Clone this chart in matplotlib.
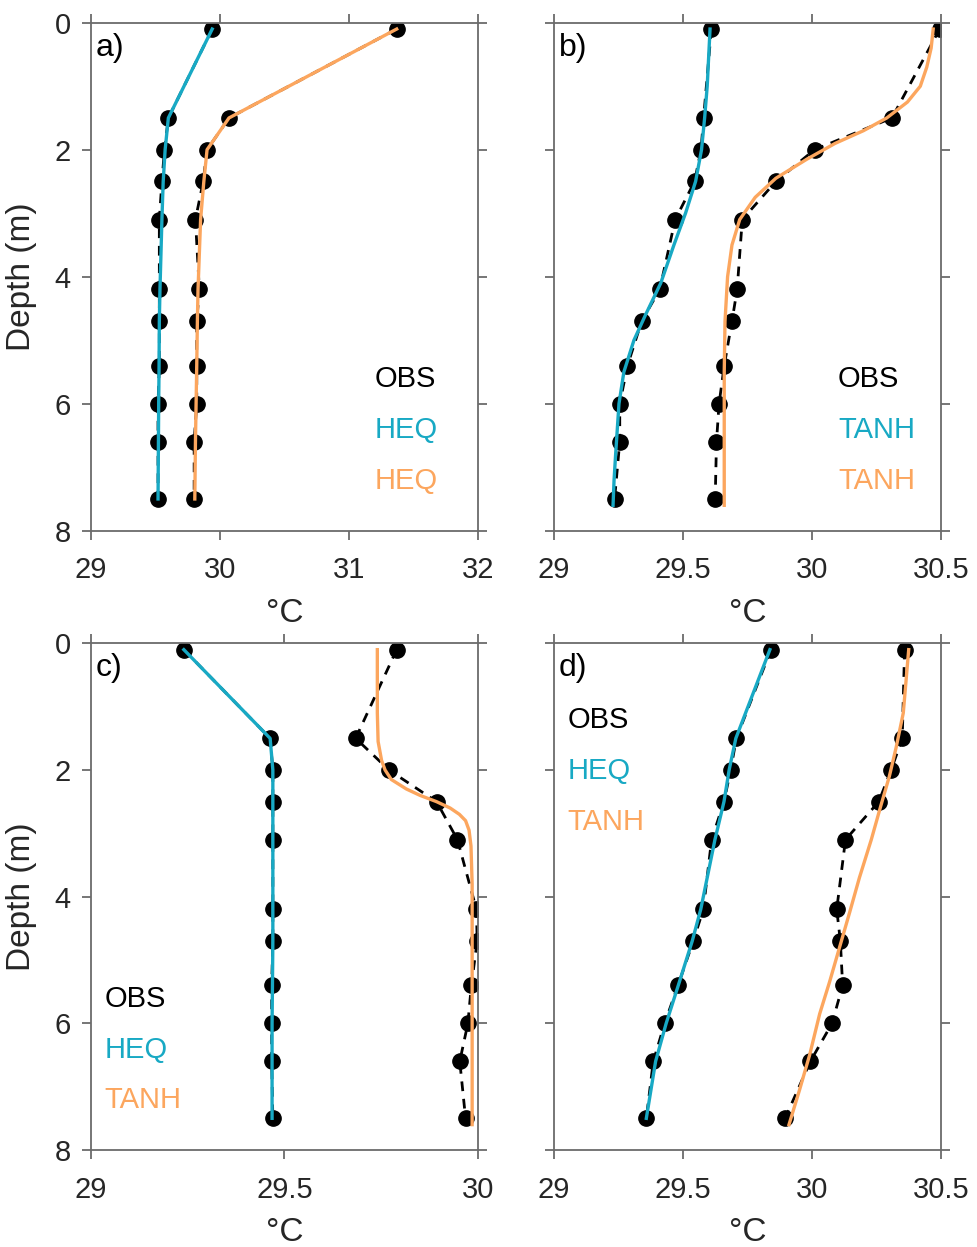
import matplotlib
matplotlib.use('Agg')
import matplotlib.pyplot as plt

plt.rcParams['font.family'] = ['Liberation Sans', 'DejaVu Sans']

# observation depths (m), shared by every profile
depth_obs = [0.1, 1.5, 2.0, 2.5, 3.1, 4.2, 4.7, 5.4, 6.0, 6.6, 7.5]

# a) HEQ fits to two profiles
obs_a1 = [29.94, 29.60, 29.57, 29.55, 29.53, 29.53, 29.53, 29.53, 29.52, 29.52, 29.52]
obs_a2 = [31.37, 30.07, 29.90, 29.87, 29.81, 29.84, 29.82, 29.82, 29.82, 29.80, 29.80]
heq_a1 = [29.94, 29.60, 29.575, 29.56, 29.55, 29.535, 29.53, 29.528, 29.525, 29.523, 29.52]
heq_a2 = [31.37, 30.07, 29.90, 29.875, 29.85, 29.83, 29.825, 29.82, 29.815, 29.81, 29.805]

# b) TANH fits
obs_b1 = [29.61, 29.58, 29.57, 29.545, 29.47, 29.41, 29.34, 29.285, 29.255, 29.255, 29.235]
obs_b2 = [30.495, 30.31, 30.01, 29.86, 29.73, 29.71, 29.69, 29.66, 29.64, 29.63, 29.625]
depth_b1 = [0.1, 1.0, 1.5, 2.0, 2.5, 3.0, 3.5, 4.1, 4.6, 5.0, 5.5, 6.0, 6.8, 7.2, 7.6]
tanh_b1 = [29.605, 29.594, 29.584, 29.572, 29.549, 29.51, 29.465, 29.414, 29.355,
           29.31, 29.271, 29.252, 29.239, 29.233, 29.229]
depth_b2 = [0.1, 0.4, 0.7, 1.0, 1.25, 1.5, 1.7, 1.9, 2.15, 2.45, 2.75, 3.1, 3.5,
            4.0, 4.7, 5.5, 7.6]
tanh_b2 = [30.47, 30.462, 30.445, 30.42, 30.37, 30.29, 30.20, 30.09, 29.98, 29.86,
           29.78, 29.72, 29.69, 29.673, 29.663, 29.66, 29.66]

# c) HEQ + TANH
obs_c1 = [29.24, 29.463, 29.47, 29.47, 29.47, 29.47, 29.47, 29.467, 29.467, 29.467, 29.47]
obs_c2 = [29.79, 29.684, 29.77, 29.893, 29.947, 29.996, 29.998, 29.983, 29.974, 29.953, 29.968]
heq_c1 = [29.24, 29.463, 29.47, 29.47, 29.47, 29.47, 29.47, 29.469, 29.468, 29.468, 29.468]
depth_c2 = [0.1, 1.1, 1.55, 1.85, 2.0, 2.15, 2.3, 2.4, 2.5, 2.6, 2.7, 2.8, 2.95,
            3.2, 3.8, 7.6]
tanh_c2 = [29.74, 29.74, 29.742, 29.751, 29.76, 29.776, 29.815, 29.85, 29.893,
           29.928, 29.952, 29.968, 29.977, 29.982, 29.985, 29.985]

# d) HEQ + TANH
obs_d1 = [29.841, 29.707, 29.685, 29.659, 29.611, 29.579, 29.54, 29.481, 29.429, 29.385, 29.358]
obs_d2 = [30.359, 30.35, 30.307, 30.259, 30.13, 30.096, 30.11, 30.119, 30.078, 29.994, 29.896]
heq_d1 = [29.837, 29.705, 29.679, 29.659, 29.624, 29.569, 29.536, 29.482, 29.435, 29.394, 29.358]
depth_d2 = [0.1, 1.1, 1.65, 2.1, 2.55, 3.1, 3.7, 4.25, 4.8, 5.35, 5.85, 6.5, 7.05, 7.6]
tanh_d2 = [30.375, 30.354, 30.326, 30.30, 30.268, 30.23, 30.184, 30.146, 30.107,
           30.068, 30.03, 29.991, 29.952, 29.911]

xticks_a = [29, 30, 31, 32]
xticks_bd = [29, 29.5, 30, 30.5]
xticks_c = [29, 29.5, 30]
yticks = [0, 2, 4, 6, 8]

CYAN = '#18a9c4'
ORANGE = '#fca65e'
GREY = '#6b6b6b'
TEXT = '#262626'
FS = 21
FS_LABEL = 24


def fmt(v):
    return ('%g' % v)


def draw_panel(ax, letter, obs1, obs2, fit1, fit2, names, xticks, left_col, leg_xy):
    for obs in (obs1, obs2):
        ax.plot(obs, depth_obs, color='k', linestyle='--', dashes=(3.5, 2.8),
                linewidth=2.0, marker='o', markersize=11, zorder=2)
    ax.plot(fit1[1], fit1[0], color=CYAN, linewidth=2.4, zorder=3)
    ax.plot(fit2[1], fit2[0], color=ORANGE, linewidth=2.4, zorder=3)

    ax.set_xlim(xticks[0], xticks[-1])
    ax.set_ylim(8, 0)
    ax.set_xticks(xticks)
    ax.set_xticklabels([fmt(v) for v in xticks])
    ax.set_yticks(yticks)
    if left_col:
        ax.set_yticklabels([str(v) for v in yticks])
        ax.set_ylabel('Depth (m)', fontsize=FS_LABEL, color=TEXT)
        ax.yaxis.set_label_coords(-0.14, 0.5)
    else:
        ax.set_yticklabels([])
    ax.set_xlabel('°C', fontsize=FS_LABEL, color=TEXT)
    ax.xaxis.set_label_coords(0.5, -0.133)

    for sp in ax.spines.values():
        sp.set_color(GREY)
        sp.set_linewidth(1.3)
    ax.tick_params(direction='out', length=6.5, width=1.3, colors=GREY,
                   labelcolor=TEXT, labelsize=FS, top=True, right=True)
    ax.tick_params(axis='x', pad=12)
    ax.tick_params(axis='y', pad=8)

    ax.text(0.012, 0.935, letter, transform=ax.transAxes, fontsize=23,
            color='k', ha='left', va='baseline')
    lx, ly = leg_xy
    for i, (txt, col) in enumerate(zip(['OBS'] + names, ['k', CYAN, ORANGE])):
        ax.text(lx, ly - 0.1 * i, txt, transform=ax.transAxes, fontsize=FS,
                color=col, ha='left', va='baseline')


fig = plt.figure(figsize=(9.77, 12.47), dpi=100)
ax_a = fig.add_axes([0.0931, 0.5744, 0.3961, 0.4074])
ax_b = fig.add_axes([0.5670, 0.5744, 0.3961, 0.4074])
ax_c = fig.add_axes([0.0931, 0.0778, 0.3961, 0.4063])
ax_d = fig.add_axes([0.5670, 0.0778, 0.3961, 0.4063])

draw_panel(ax_a, 'a)', obs_a1, obs_a2, (depth_obs, heq_a1), (depth_obs, heq_a2),
           ['HEQ', 'HEQ'], xticks_a, True, (0.734, 0.282))
draw_panel(ax_b, 'b)', obs_b1, obs_b2, (depth_b1, tanh_b1), (depth_b2, tanh_b2),
           ['TANH', 'TANH'], xticks_bd, False, (0.734, 0.282))
draw_panel(ax_c, 'c)', obs_c1, obs_c2, (depth_obs, heq_c1), (depth_c2, tanh_c2),
           ['HEQ', 'TANH'], xticks_c, True, (0.035, 0.282))
draw_panel(ax_d, 'd)', obs_d1, obs_d2, (depth_obs, heq_d1), (depth_d2, tanh_d2),
           ['HEQ', 'TANH'], xticks_bd, False, (0.035, 0.832))

fig.savefig('out.png', dpi=100)
